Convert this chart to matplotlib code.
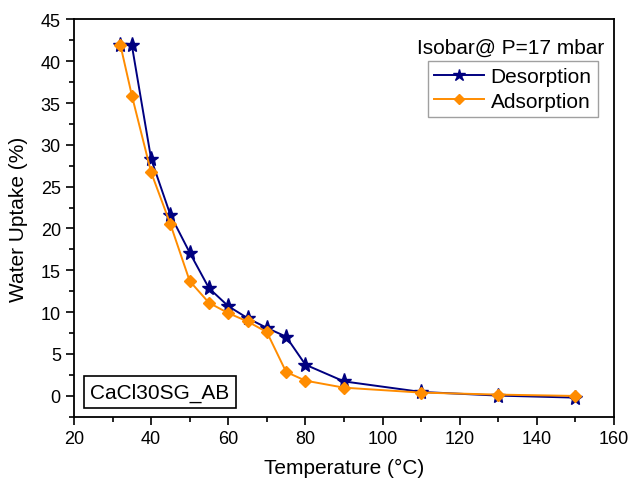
import matplotlib
matplotlib.use("Agg")
import matplotlib.pyplot as plt
from matplotlib.ticker import MultipleLocator

plt.rcParams['font.family'] = ['Liberation Sans', 'DejaVu Sans']

des_T = [32, 35, 40, 45, 50, 55, 60, 65, 70, 75, 80, 90, 110, 130, 150]
des_U = [42.0, 41.9, 28.3, 21.6, 17.1, 12.85, 10.7, 9.27, 8.1, 7.05, 3.7, 1.7, 0.44, 0.0, -0.24]
ads_T = [32, 35, 40, 45, 50, 55, 60, 65, 70, 75, 80, 90, 110, 130, 150]
ads_U = [42.0, 35.9, 26.7, 20.5, 13.7, 11.1, 9.87, 8.87, 7.6, 2.83, 1.79, 0.95, 0.36, 0.12, -0.04]

fig = plt.figure(figsize=(6.3, 4.81), dpi=100)
ax = fig.add_axes([0.1175, 0.132, 0.857, 0.8254])

ax.plot(des_T, des_U, color='#000080', marker='*', markersize=11, linewidth=1.4, label='Desorption', zorder=3)
ax.plot(ads_T, ads_U, color='#FF8C00', marker='D', markersize=6.5, linewidth=1.4, label='Adsorption', zorder=4)

ax.set_xlim(20, 160)
ax.set_ylim(-2.5, 45)
ax.xaxis.set_major_locator(MultipleLocator(20))
ax.xaxis.set_minor_locator(MultipleLocator(10))
ax.yaxis.set_major_locator(MultipleLocator(5))
ax.yaxis.set_minor_locator(MultipleLocator(2.5))
ax.tick_params(which='major', direction='out', length=6, width=1.2, labelsize=13, colors='black')
ax.tick_params(which='minor', direction='out', length=3.5, width=1.2)
for s in ax.spines.values():
    s.set_linewidth(1.3)

ax.set_xlabel('Temperature (°C)', fontsize=15, labelpad=8)
ax.set_ylabel('Water Uptake (%)', fontsize=15, labelpad=9)

ax.text(0.982, 0.93, 'Isobar@ P=17 mbar', transform=ax.transAxes, ha='right', va='center', fontsize=15)

leg = ax.legend(loc='upper right', bbox_to_anchor=(0.97, 0.895), fontsize=15, frameon=True,
                fancybox=False, edgecolor='#888888', handlelength=2.4, handletextpad=0.3,
                borderpad=0.3, labelspacing=0.25, borderaxespad=0, markerscale=0.8)
leg.get_frame().set_linewidth(1.0)

ax.text(0.03, 0.062, 'CaCl30SG_AB', transform=ax.transAxes, ha='left', va='center', fontsize=15,
        bbox=dict(boxstyle='square,pad=0.3', facecolor='white', edgecolor='black', linewidth=1.2), zorder=5)

fig.savefig('out.png', dpi=100)
